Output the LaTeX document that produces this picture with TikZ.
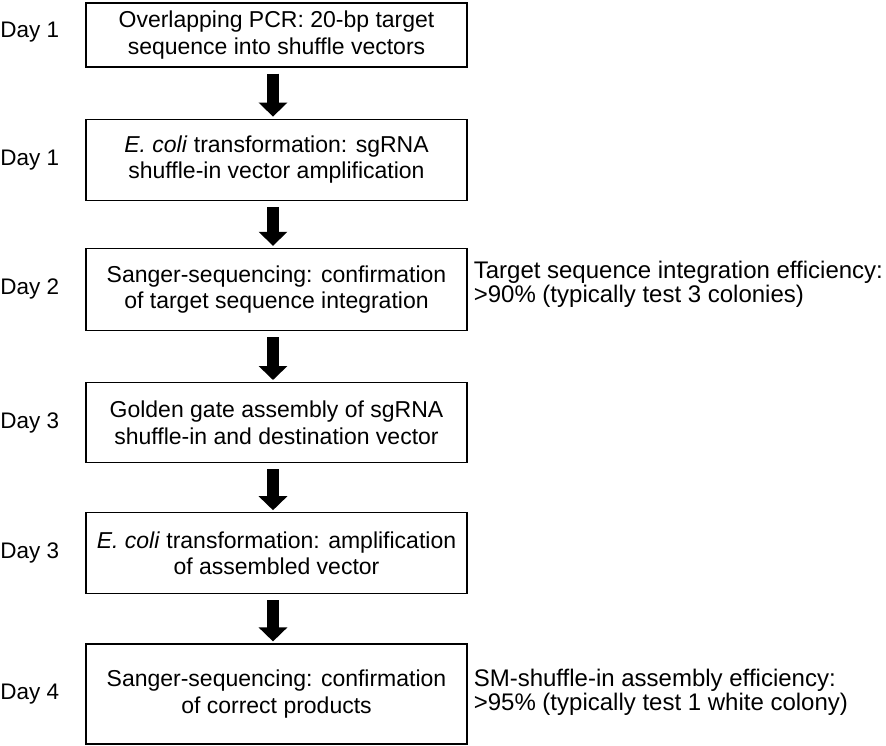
\documentclass[tikz,border=0pt]{standalone}
\usepackage{fontspec}
\setmainfont{Liberation Sans}
\usepackage{tikz}
\usetikzlibrary{arrows.meta}
\usetikzlibrary{positioning}

\begin{document}
\begin{tikzpicture}[
                x=1pt, y=1pt,
                every node/.style={font=\fontsize{23}{26.5}\selectfont},
                stepbox/.style={draw, line width=1.2pt, minimum width=381pt, align=center, inner sep=2pt},
                daylabel/.style={inner sep=0pt, anchor=east, font=\fontsize{22.5}{26}\selectfont},
                note/.style={inner sep=0pt, align=left, anchor=west, font=\fontsize{24}{24}\selectfont},
                flow/.style={line width=12pt, -{Triangle[width=28pt,length=14pt]}, shorten <=6pt, shorten >=2pt}
            ]

            \useasboundingbox (0,0) rectangle (886,-745);

            % Define nodes
            \node[stepbox, minimum height=64pt] (box1) at (276.5,-35) {Overlapping PCR: 20-bp target\\sequence into shuffle vectors};
            \node[stepbox, minimum height=81pt, below=51pt of box1] (box2) {\textit{E. coli} transformation: sgRNA\\shuffle-in vector amplification};
            \node[stepbox, minimum height=82pt, below=47pt of box2] (box3) {Sanger-sequencing: confirmation\\of target sequence integration};
            \node[stepbox, minimum height=80pt, below=51pt of box3] (box4) {Golden gate assembly of sgRNA\\shuffle-in and destination vector};
            \node[stepbox, minimum height=81pt, below=49pt of box4] (box5) {\textit{E. coli} transformation: amplification\\of assembled vector};
            \node[stepbox, minimum height=100pt, below=49pt of box5] (box6) {Sanger-sequencing: confirmation\\of correct products};

            % Day labels
            \node[daylabel, left=26pt of box1, yshift=3pt] (day1) {Day 1};
            \node[daylabel, left=26pt of box2] (day2) {Day 1};
            \node[daylabel, left=26pt of box3] (day3) {Day 2};
            \node[daylabel, left=26pt of box4] (day4) {Day 3};
            \node[daylabel, left=26pt of box5] (day5) {Day 3};
            \node[daylabel, left=26pt of box6] (day6) {Day 4};

            % Efficiency notes
            \node[note, right=6pt of box3, yshift=5pt] (note3) {Target sequence integration efficiency:\\>90\% (typically test 3 colonies)};
            \node[note, right=6pt of box6, yshift=1.5pt] (note6) {SM-shuffle-in assembly efficiency:\\>95\% (typically test 1 white colony)};

            % Arrows connecting boxes
            \draw[flow] ([xshift=-3.5pt]box1.south) -- ([xshift=-3.5pt]box2.north);
            \draw[flow] ([xshift=-3.5pt]box2.south) -- ([xshift=-3.5pt]box3.north);
            \draw[flow] ([xshift=-3.5pt]box3.south) -- ([xshift=-3.5pt]box4.north);
            \draw[flow] ([xshift=-3.5pt]box4.south) -- ([xshift=-3.5pt]box5.north);
            \draw[flow] ([xshift=-3.5pt]box5.south) -- ([xshift=-3.5pt]box6.north);

        \end{tikzpicture}
\end{document}
